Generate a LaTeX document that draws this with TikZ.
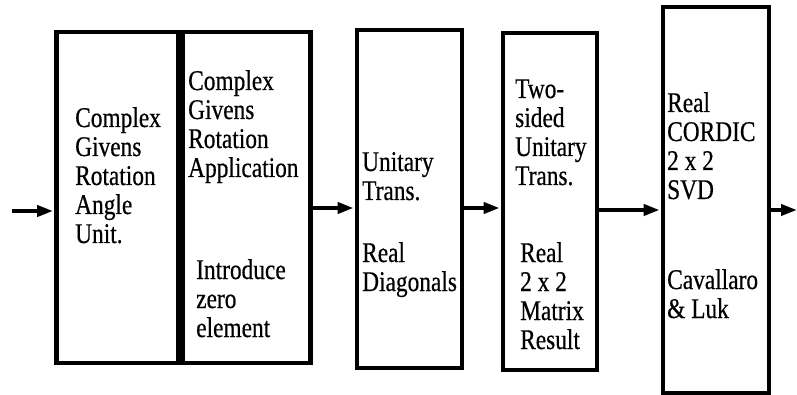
\documentclass[tikz,border=0pt]{standalone}
\usepackage{fontspec}
\setmainfont{Liberation Serif}[FakeStretch=0.82,FakeBold=0.5]
\usetikzlibrary{arrows.meta}

% a left-aligned stack of lines whose baseline is that of the first line
\newcommand{\stack}[1]{\begin{tabular}[t]{@{}l@{}}#1\end{tabular}}

\begin{document}
\begin{tikzpicture}[x=1pt,y=-1pt,
  block/.style={draw, line width=4.8pt, rectangle, inner sep=0pt},
  label/.style={anchor=base west, inner sep=0pt,
    font=\fontsize{28.5}{29}\selectfont},
  flow/.style={line width=3.8pt,
    -{Triangle[length=16pt,width=11pt]}, shorten >=1pt}]

\useasboundingbox (0,0) rectangle (797,395);

% processing blocks
\node[block, minimum width=122pt, minimum height=331pt] (b1) at (117.5,197.5) {};
\node[block, minimum width=128pt, minimum height=331pt] (b2) at (246.5,197.5) {};
\node[block, minimum width=105pt, minimum height=338pt] (b3) at (409.5,199) {};
\node[block, minimum width=94pt,  minimum height=337pt] (b4) at (550,201.5) {};
\node[block, minimum width=106pt, minimum height=386pt] (b5) at (716,200) {};

% block texts
\node[label] (t1) at (75,127) {\stack{Complex\\Givens\\Rotation\\Angle\\Unit.}};
\node[label] (t2a) at (188,90) {\stack{Complex\\Givens\\Rotation\\Application}};
\node[label] (t2b) at (196,279) {\stack{Introduce\\zero\\element}};
\node[label] (t3a) at (362,171) {\stack{Unitary\\Trans.}};
\node[label] (t3b) at (362,262) {\stack{Real\\Diagonals}};
\node[label] (t4a) at (515,98) {\stack{Two-\\sided\\Unitary\\Trans.}};
\node[label] (t4b) at (520,262) {\stack{Real\\2 x 2\\Matrix\\Result}};
\node[label] (t5a) at (667,112) {\stack{Real\\CORDIC\\2 x 2\\SVD}};
\node[label] (t5b) at (667,289) {\stack{Cavallaro\\\& Luk}};

% input and output ends
\coordinate (in) at (12,211);
\coordinate (out) at (797,210);

% data flow
\draw[flow] (in) -- (b1.west |- in);
\draw[flow] (b2.east |- 0,208) -- (b3.west |- 0,208);
\draw[flow] (b3.east |- 0,208) -- (b4.west |- 0,208);
\draw[flow] (b4.east |- 0,210) -- (b5.west |- 0,210);
\draw[flow, shorten >=0pt] (b5.east |- out) -- (out);
\end{tikzpicture}
\end{document}
